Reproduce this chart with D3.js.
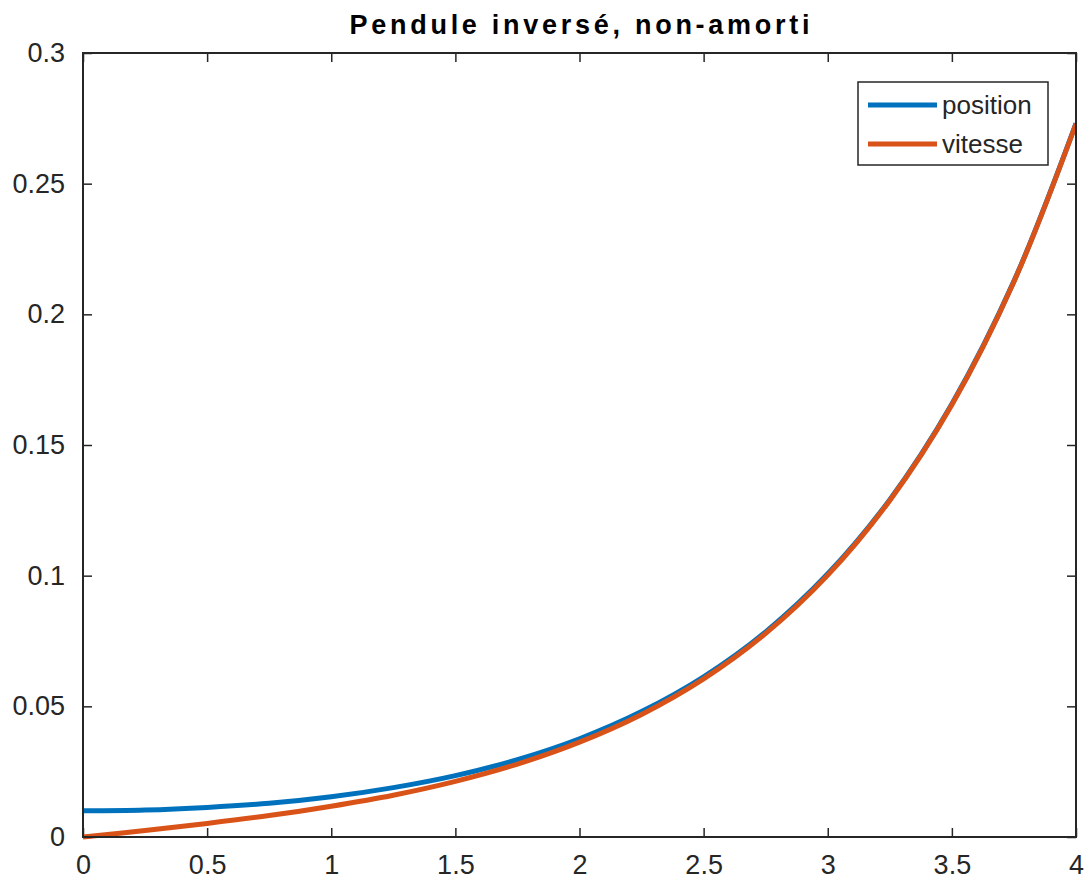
<!DOCTYPE html>
<html>
<head>
<meta charset="utf-8">
<script src="https://cdn.jsdelivr.net/npm/d3@7"></script>
<style>
  body { margin: 0; background: #fff; }
  svg { display: block; font-family: "Liberation Sans", Arial, sans-serif; }
</style>
</head>
<body>
<div id="chart"></div>
<script>
// Pendule inversé, non-amorti : position et vitesse en fonction du temps

const temps = [0, 0.25, 0.5, 0.75, 1, 1.25, 1.5, 1.75, 2, 2.25, 2.5, 2.75, 3, 3.25, 3.5, 3.75, 4];
const position = [0.0100, 0.0103, 0.0113, 0.0129, 0.0154, 0.0189, 0.0235, 0.0296, 0.0376,
                  0.0480, 0.0613, 0.0785, 0.1007, 0.1291, 0.1657, 0.2127, 0.2731];
const vitesse = [0.0000, 0.0025, 0.0052, 0.0082, 0.0118, 0.0160, 0.0213, 0.0279, 0.0363,
                 0.0469, 0.0605, 0.0779, 0.1002, 0.1288, 0.1654, 0.2125, 0.2729];
const seriesNames = ['position', 'vitesse'];
const xTicks = [0, 0.5, 1, 1.5, 2, 2.5, 3, 3.5, 4];
const yTicks = [0, 0.05, 0.1, 0.15, 0.2, 0.25, 0.3];

const width = 1086;
const height = 888;
const margin = {top: 53, right: 10, bottom: 51, left: 83};
const colors = ['#0072BD', '#D95319'];
const axisColor = '#262626';

const svg = d3.select('#chart')
  .append('svg')
  .attr('width', width)
  .attr('height', height);

const x = d3.scaleLinear().domain([0, 4]).range([margin.left, width - margin.right]);
const y = d3.scaleLinear().domain([0, 0.3]).range([height - margin.bottom, margin.top]);

// ticks on all four sides, pointing inward
const tickLen = 9;
const fmt = d => d3.format('')(d);

svg.append('g')
  .attr('transform', `translate(0,${y(0)})`)
  .call(d3.axisBottom(x).tickValues(xTicks).tickSizeInner(-tickLen).tickSizeOuter(0).tickPadding(18).tickFormat(fmt))
  .call(g => g.select('.domain').remove());

svg.append('g')
  .attr('transform', `translate(0,${y(0.3)})`)
  .call(d3.axisTop(x).tickValues(xTicks).tickSizeInner(-tickLen).tickSizeOuter(0).tickFormat(''))
  .call(g => g.select('.domain').remove());

svg.append('g')
  .attr('transform', `translate(${x(0)},0)`)
  .call(d3.axisLeft(y).tickValues(yTicks).tickSizeInner(-tickLen).tickSizeOuter(0).tickPadding(18).tickFormat(fmt))
  .call(g => g.select('.domain').remove());

svg.append('g')
  .attr('transform', `translate(${x(4)},0)`)
  .call(d3.axisRight(y).tickValues(yTicks).tickSizeInner(-tickLen).tickSizeOuter(0).tickFormat(''))
  .call(g => g.select('.domain').remove());

svg.selectAll('.tick line').attr('stroke', axisColor).attr('stroke-width', 1.5);
svg.selectAll('.tick text')
  .attr('fill', axisColor)
  .style('font-size', '27px');

// curves
const data = [position, vitesse];
const line = d3.line()
  .x((d, i) => x(temps[i]))
  .y(d => y(d))
  .curve(d3.curveCatmullRom);

svg.append('clipPath').attr('id', 'clip')
  .append('rect')
  .attr('x', x(0)).attr('y', y(0.3) - 3)
  .attr('width', x(4) - x(0)).attr('height', y(0) - y(0.3) + 6);

svg.append('g')
  .attr('clip-path', 'url(#clip)')
  .selectAll('path')
  .data(data)
  .enter().append('path')
  .attr('d', line)
  .attr('fill', 'none')
  .attr('stroke', (d, i) => colors[i])
  .attr('stroke-width', 5)
  .attr('stroke-linejoin', 'round');

// box
svg.append('rect')
  .attr('x', x(0)).attr('y', y(0.3))
  .attr('width', x(4) - x(0)).attr('height', y(0) - y(0.3))
  .attr('fill', 'none')
  .attr('stroke', axisColor)
  .attr('stroke-width', 2);

// title
svg.append('text')
  .attr('x', (x(0) + x(4)) / 2)
  .attr('y', 34)
  .attr('text-anchor', 'middle')
  .attr('font-weight', 'bold')
  .attr('font-size', 27)
  .attr('textLength', 460)
  .attr('lengthAdjust', 'spacing')
  .attr('fill', '#000')
  .text('Pendule inversé, non-amorti');

// legend
const legend = svg.append('g');
legend.append('rect')
  .attr('x', 858).attr('y', 82)
  .attr('width', 190).attr('height', 83)
  .attr('fill', '#fff')
  .attr('stroke', axisColor)
  .attr('stroke-width', 1.5);

seriesNames.forEach((name, i) => {
  const cy = 105 + i * 39;
  legend.append('line')
    .attr('x1', 868).attr('x2', 937)
    .attr('y1', cy).attr('y2', cy)
    .attr('stroke', colors[i])
    .attr('stroke-width', 5);
  legend.append('text')
    .attr('x', 942)
    .attr('y', cy)
    .attr('dy', '0.35em')
    .attr('font-size', 26)
    .attr('fill', axisColor)
    .text(name);
});
</script>
</body>
</html>
